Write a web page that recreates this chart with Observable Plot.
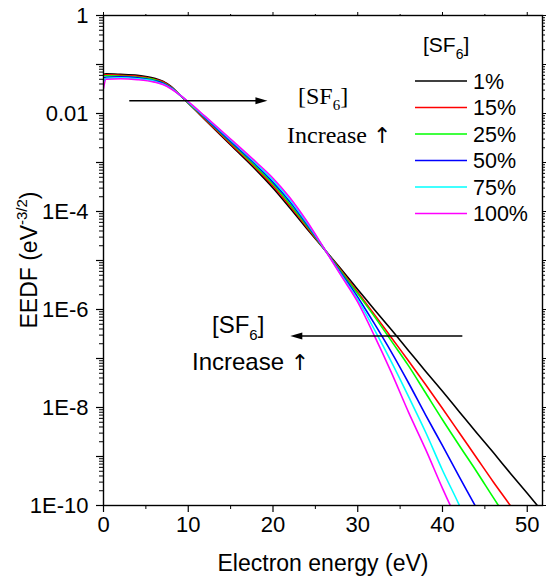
<!DOCTYPE html>
<html><head><meta charset="utf-8">
<script src="https://cdn.jsdelivr.net/npm/d3@7"></script>
<script src="https://cdn.jsdelivr.net/npm/@observablehq/plot@0.6"></script>
<style>body{margin:0;background:#fff;} svg{display:block}</style>
</head><body><div id="chart"></div>
<script>
// Electron energy grid (eV)
const energy = [0,0.3,2,4,6,7,8,9,10,12,15,18,20,22,24,26.2,28,30,32,34,36,38,40,42,44,46,48,50,52];
// log10 of EEDF (eV^-3/2)
const log_1pct   = [-1.20,-1.19,-1.20,-1.22,-1.28,-1.34,-1.45,-1.62,-1.79,-2.13,-2.64,-3.15,-3.52,-3.93,-4.35,-4.80,-5.17,-5.59,-6.01,-6.42,-6.84,-7.26,-7.67,-8.09,-8.51,-8.92,-9.34,-9.75,-10.17];
const log_15pct  = [-1.21,-1.21,-1.22,-1.24,-1.30,-1.35,-1.46,-1.62,-1.78,-2.12,-2.62,-3.12,-3.48,-3.89,-4.32,-4.80,-5.20,-5.65,-6.11,-6.58,-7.05,-7.53,-8.02,-8.52,-9.02,-9.52,-10.0,-10.5,null];
const log_25pct  = [-1.23,-1.23,-1.24,-1.26,-1.31,-1.37,-1.47,-1.62,-1.78,-2.10,-2.59,-3.09,-3.44,-3.85,-4.29,-4.80,-5.22,-5.68,-6.15,-6.65,-7.15,-7.70,-8.25,-8.78,-9.30,-9.84,-10.37,null,null];
const log_50pct  = [-1.27,-1.26,-1.25,-1.27,-1.33,-1.38,-1.48,-1.62,-1.77,-2.09,-2.57,-3.05,-3.40,-3.80,-4.26,-4.80,-5.25,-5.75,-6.30,-6.88,-7.50,-8.15,-8.78,-9.42,-10.05,-10.7,null,null,null];
const log_75pct  = [-1.35,-1.28,-1.27,-1.29,-1.34,-1.40,-1.49,-1.62,-1.77,-2.07,-2.54,-3.02,-3.36,-3.76,-4.23,-4.80,-5.28,-5.80,-6.42,-7.08,-7.78,-8.50,-9.28,-10.0,-10.8,null,null,null,null];
const log_100pct = [-1.49,-1.30,-1.29,-1.31,-1.36,-1.41,-1.50,-1.62,-1.76,-2.06,-2.52,-2.99,-3.32,-3.72,-4.20,-4.80,-5.30,-5.85,-6.55,-7.30,-8.10,-8.85,-9.65,-10.4,null,null,null,null,null];

const seriesNames  = ["1%","15%","25%","50%","75%","100%"];
const seriesColors = ["#000000","#ff0000","#00ff00","#0000ff","#00ffff","#ff00ff"];
const seriesLogs   = [log_1pct,log_15pct,log_25pct,log_50pct,log_75pct,log_100pct];

// axis ticks
const xMajorTicks = [0,10,20,30,40,50];
const xMinorTicks = [5,15,25,35,45];
const yMajorTicks = [1,1e-1,1e-2,1e-3,1e-4,1e-5,1e-6,1e-7,1e-8,1e-9,1e-10];
const yLabelTicks = [1,1e-2,1e-4,1e-6,1e-8,1e-10];
const yLabelText  = ["1","0.01","1E-4","1E-6","1E-8","1E-10"];
const yMinorTicks = [];
for (let e = -10; e < 0; e++) for (let m = 2; m <= 9; m++) yMinorTicks.push(m * Math.pow(10, e));

// annotation arrows (data coordinates)
const arrowTop    = {x1: 3.1, x2: 19.4, y: 0.0178};
const arrowBottom = {x1: 42.4, x2: 22.1, y: 2.8e-7};

const rows = [];
seriesLogs.forEach((arr, i) => arr.forEach((v, j) => {
  if (v !== null) rows.push({series: seriesNames[i], energy: energy[j], eedf: Math.pow(10, v)});
}));

const FONT = "'Liberation Sans', Arial, sans-serif";
const SERIF = "'Liberation Serif', 'Times New Roman', serif";
const ARROWFONT = "'DejaVu Sans', sans-serif";

const plot = Plot.plot({
  width: 546, height: 579,
  marginLeft: 103, marginRight: 4, marginTop: 15, marginBottom: 74,
  style: {fontFamily: FONT, fontSize: "22px", color: "black", background: "white"},
  x: {domain: [0, 51.8]},
  y: {type: "log", domain: [1e-10, 1]},
  marks: [
    Plot.line(rows, {x: "energy", y: "eedf", z: "series",
      stroke: d => seriesColors[seriesNames.indexOf(d.series)],
      strokeWidth: 1.6, curve: "monotone-x", clip: true}),
    Plot.frame({stroke: "black", strokeWidth: 1.4}),
    Plot.axisY(yMajorTicks, {tickSize: 7, tickFormat: d => { const k = yLabelTicks.indexOf(d); return k >= 0 ? yLabelText[k] : ""; }, tickPadding: 8, label: null, strokeWidth: 1.2}),
    Plot.axisY(yMinorTicks, {tickSize: 4, tickFormat: () => "", label: null, strokeWidth: 1}),
    Plot.axisY(yMajorTicks, {anchor: "right", tickSize: 4, tickFormat: () => "", label: null}),
    Plot.axisY(yMinorTicks, {anchor: "right", tickSize: 2, tickFormat: () => "", label: null}),
    Plot.axisX(xMajorTicks, {tickSize: 7, tickPadding: 4, label: null, strokeWidth: 1.2}),
    Plot.axisX(xMinorTicks, {tickSize: 4, tickFormat: () => "", label: null}),
    Plot.axisX(xMajorTicks, {anchor: "top", tickSize: 4, tickFormat: () => "", label: null}),
    Plot.axisX(xMinorTicks, {anchor: "top", tickSize: 2, tickFormat: () => "", label: null})
  ]
});
document.getElementById("chart").appendChild(plot);

const svg = d3.select(plot);
const sx = plot.scale("x"), sy = plot.scale("y");

function txt(x, y, family, size) {
  return svg.append("text").attr("x", x).attr("y", y).attr("text-anchor", "start")
    .attr("font-family", family).attr("font-size", size).attr("fill", "black");
}

// axis titles
txt(323, 571, FONT, 23).attr("text-anchor", "middle").text("Electron energy (eV)");
const yt = svg.append("text").attr("transform", "translate(37,260) rotate(-90)").attr("text-anchor", "middle")
  .attr("font-family", FONT).attr("font-size", 23).attr("fill", "black");
yt.append("tspan").text("EEDF (eV");
yt.append("tspan").attr("dy", -10).attr("font-size", 15).text("-3/2");
yt.append("tspan").attr("dy", 10).text(")");

// legend
const lt = txt(423, 52, FONT, 21);
lt.append("tspan").text("[SF");
lt.append("tspan").attr("dy", 7).attr("font-size", 14).text("6");
lt.append("tspan").attr("dy", -7).text("]");
seriesNames.forEach((n, i) => {
  const yy = 81 + i * 26.5;
  svg.append("line").attr("x1", 415).attr("x2", 467).attr("y1", yy).attr("y2", yy)
    .attr("stroke", seriesColors[i]).attr("stroke-width", 1.6);
  txt(473, yy, FONT, 21.5).attr("dy", "0.36em").text(n);
});

// arrows
function arrow(a) {
  const x1 = sx.apply(a.x1), x2 = sx.apply(a.x2), y = sy.apply(a.y);
  const dir = Math.sign(x2 - x1);
  svg.append("line").attr("x1", x1).attr("x2", x2 - dir * 8).attr("y1", y).attr("y2", y)
    .attr("stroke", "black").attr("stroke-width", 1.5);
  svg.append("path").attr("d", `M${x2},${y} L${x2 - dir * 12},${y - 3.5} L${x2 - dir * 12},${y + 3.5} Z`).attr("fill", "black");
}
arrow(arrowTop);
arrow(arrowBottom);

// annotation texts
const t1 = txt(298, 104, SERIF, 24);
t1.append("tspan").text("[SF");
t1.append("tspan").attr("dy", 6).attr("font-size", 15).text("6");
t1.append("tspan").attr("dy", -6).text("]");
const i1 = txt(287, 143, SERIF, 24);
i1.append("tspan").text("Increase ");
i1.append("tspan").attr("font-family", ARROWFONT).attr("font-size", 22).text("\u2191");

const t2 = txt(212, 333, FONT, 24);
t2.append("tspan").text("[SF");
t2.append("tspan").attr("dy", 7).attr("font-size", 15).text("6");
t2.append("tspan").attr("dy", -7).text("]");
const i2 = txt(192, 370, FONT, 24);
i2.append("tspan").text("Increase ");
i2.append("tspan").attr("font-family", ARROWFONT).attr("font-size", 22).text("\u2191");
</script>
</body></html>
